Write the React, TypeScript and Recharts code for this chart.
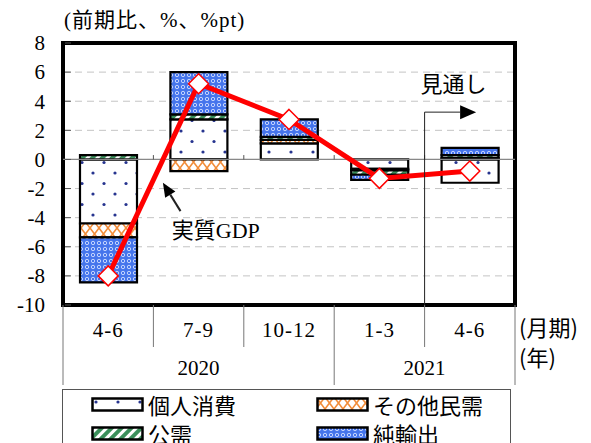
import React from 'react'
import {
  ComposedChart, Bar, Line, XAxis, YAxis, CartesianGrid,
  ReferenceLine, ReferenceArea, ReferenceDot,
} from 'recharts'

// 四半期・年
const quarters = ['4-6', '7-9', '10-12', '1-3', '4-6']
const years = ['2020', '2020', '2020', '2021', '2021']

// 寄与度 (%pt)
const consumption = [-4.4, 2.75, 1.1, -0.65, -1.6]
const otherPrivate = [-0.95, -0.8, 0.25, -0.1, 0.1]
const publicDemand = [0.3, 0.35, 0.2, -0.3, 0.2]
const netExports = [-3.1, 2.9, 1.2, -0.35, 0.5]
// 実質GDP (前期比、%)
const realGdp = [-8.0, 5.2, 2.75, -1.3, -0.8]

const yTicks = [-10, -8, -6, -4, -2, 0, 2, 4, 6, 8]
const boundaries = [1, 2, 3, 4]

const series = [
  { key: 'consumption', name: '個人消費', values: consumption, fill: 'url(#pDots)' },
  { key: 'otherPrivate', name: 'その他民需', values: otherPrivate, fill: 'url(#pZig)' },
  { key: 'publicDemand', name: '公需', values: publicDemand, fill: 'url(#pHatch)' },
  { key: 'netExports', name: '純輸出', values: netExports, fill: 'url(#pNet)' },
]

const data = quarters.map((q, i) => ({
  id: `${years[i]}-${q}`,
  pos: i + 0.5,
  consumption: consumption[i],
  otherPrivate: otherPrivate[i],
  publicDemand: publicDemand[i],
  netExports: netExports[i],
  gdp: realGdp[i],
}))

const W = 591
const H = 443
const M = { top: 43, right: 76, bottom: 63, left: 8 }
const Y_W = 55
const X_H = 75
const PLOT_W = W - M.left - Y_W - M.right

const SERIF = "'Liberation Serif', 'Noto Sans CJK JP', serif"
const CJK = "'Noto Sans CJK JP', sans-serif"

const YTick = ({ x, y, payload }: any) => (
  <g>
    <line x1={x + 20} x2={x + 26} y1={y} y2={y} stroke='#555' />
    <text x={x} y={y} dy='0.35em' textAnchor='end' fontSize={21} fontFamily={SERIF} fill='#000'>
      {payload.value}
    </text>
  </g>
)

const XTick = ({ x, y, index }: any) => {
  const bw = PLOT_W / quarters.length
  const left = x - bw / 2
  const newYear = index === 0 || years[index] !== years[index - 1]
  const span = years.filter(v => v === years[index]).length
  const last = index === quarters.length - 1
  return (
    <g fontFamily={SERIF} fontSize={21} fill='#000'>
      <line x1={left} x2={left} y1={y} y2={y + (newYear ? 80 : 42)} stroke='#777' />
      {last && <line x1={left + bw} x2={left + bw} y1={y} y2={y + 80} stroke='#777' />}
      <text x={x} y={y + 32} textAnchor='middle' letterSpacing={1}>{quarters[index]}</text>
      {newYear && (
        <text x={left + (span * bw) / 2} y={y + 70} textAnchor='middle'>{years[index]}</text>
      )}
      {last && (
        <>
          <text x={left + bw + 4} y={y + 31} fontFamily={CJK} fontSize={22}>(月期)</text>
          <text x={left + bw + 4} y={y + 61} fontFamily={CJK} fontSize={22}>(年)</text>
        </>
      )}
    </g>
  )
}

const Diamond = ({ cx, cy }: any) => {
  if (cx == null || cy == null) return null
  return (
    <polygon
      points={`${cx},${cy - 10} ${cx + 10},${cy} ${cx},${cy + 10} ${cx - 10},${cy}`}
      fill='#fff'
      stroke='#ff0000'
      strokeWidth={1.5}
    />
  )
}

const arrow = (head: boolean, len: number, half: number, sw: number) => (p: any) => {
  const { x1, y1, x2, y2 } = p
  const a = Math.atan2(y2 - y1, x2 - x1)
  const bx = x2 - len * Math.cos(a)
  const by = y2 - len * Math.sin(a)
  const pts = `${x2},${y2} ${bx + half * Math.sin(a)},${by - half * Math.cos(a)} ${bx - half * Math.sin(a)},${by + half * Math.cos(a)}`
  return (
    <g>
      <line x1={x1} y1={y1} x2={head ? bx : x2} y2={head ? by : y2} stroke='#222' strokeWidth={sw} />
      {head && <polygon points={pts} fill='#000' />}
    </g>
  )
}

const textShape = (label: string) => (p: any) => (
  <text x={p.cx} y={p.cy} dy='0.35em' textAnchor='middle' fontSize={22} fontFamily={SERIF} fill='#000'>
    {label}
  </text>
)

const Swatch = ({ fill }: { fill: string }) => (
  <svg width={53} height={15} style={{ display: 'block', flex: 'none' }}>
    <rect x={1.5} y={1.5} width={50} height={12} fill={fill} stroke='#000' strokeWidth={2.5} />
  </svg>
)

export default function App() {
  return (
    <div style={{ position: 'absolute', left: 0, top: 0, width: W, height: H, background: '#fff', overflow: 'hidden' }}>
      <svg width={0} height={0} style={{ position: 'absolute' }}>
        <defs>
          <pattern id='pDots' width={22} height={21} patternUnits='userSpaceOnUse'>
            <rect width={22} height={21} fill='#fff' />
            <circle cx={5} cy={5} r={1.6} fill='#26348f' />
            <circle cx={16} cy={15.5} r={1.6} fill='#26348f' />
          </pattern>
          <pattern id='pZig' width={18} height={12} patternUnits='userSpaceOnUse'>
            <rect width={18} height={12} fill='#fff' />
            <path d='M0,0 L9,12 L18,0 M0,12 L9,0 L18,12' stroke='#f28c38' strokeWidth={1.6} fill='none' />
          </pattern>
          <pattern id='pHatch' width={7} height={7} patternUnits='userSpaceOnUse' patternTransform='rotate(45)'>
            <rect width={7} height={7} fill='#fff' />
            <rect width={4} height={7} fill='#3a8f5a' />
          </pattern>
          <pattern id='pNet' width={6} height={6} patternUnits='userSpaceOnUse'>
            <rect width={6} height={6} fill='#4575ec' />
            <circle cx={3} cy={3} r={1.7} fill='none' stroke='#d0ddff' strokeWidth={0.9} />
          </pattern>
        </defs>
      </svg>

      <div style={{ position: 'absolute', left: 64, top: 7, fontSize: 21, letterSpacing: 1, fontFamily: SERIF, lineHeight: '26px' }}>
        (前期比、%、%pt)
      </div>

      <ComposedChart width={W} height={H} data={data} margin={M} stackOffset='sign' barSize={57}>
        <CartesianGrid horizontal vertical={false} stroke='#c4c4c4' strokeDasharray='7 5' />
        <XAxis
          dataKey='id'
          height={X_H}
          interval={0}
          tickLine={false}
          axisLine={false}
          tickSize={0}
          tickMargin={0}
          tick={<XTick />}
        />
        <XAxis
          xAxisId='num'
          dataKey='pos'
          type='number'
          domain={[0, quarters.length]}
          allowDataOverflow
          hide
        />
        <YAxis
          width={Y_W}
          domain={[-10, 8]}
          ticks={yTicks}
          interval={0}
          tickLine={false}
          axisLine={false}
          tickSize={0}
          tickMargin={18}
          tick={<YTick />}
        />
        <ReferenceLine y={0} stroke='#888' strokeWidth={1.2} />
        {boundaries.map(b => (
          <ReferenceLine
            key={b}
            xAxisId='num'
            ifOverflow='visible'
            segment={[{ x: b, y: 0 }, { x: b, y: 0.3 }]}
            stroke='#555'
          />
        ))}
        {series.map(s => (
          <Bar
            key={s.key}
            dataKey={s.key}
            name={s.name}
            stackId='a'
            fill={s.fill}
            stroke='#000'
            strokeWidth={2.2}
            isAnimationActive={false}
          />
        ))}
        <Line
          dataKey='gdp'
          name='実質GDP'
          stroke='#ff0000'
          strokeWidth={5}
          dot={<Diamond />}
          activeDot={false}
          isAnimationActive={false}
        />
        <ReferenceArea y1={-10} y2={8} fill='none' fillOpacity={0} stroke='#000' strokeWidth={4} />
        <ReferenceLine
          xAxisId='num'
          ifOverflow='visible'
          segment={[{ x: 4, y: -10 }, { x: 4, y: 3.25 }]}
          shape={arrow(false, 0, 0, 1)}
        />
        <ReferenceLine
          xAxisId='num'
          ifOverflow='visible'
          segment={[{ x: 4, y: 3.25 }, { x: 4.57, y: 3.25 }]}
          shape={arrow(true, 16, 7, 1)}
        />
        <ReferenceLine
          xAxisId='num'
          ifOverflow='visible'
          segment={[{ x: 1.3, y: -3.55 }, { x: 1.105, y: -1.6 }]}
          shape={arrow(true, 14, 6, 2)}
        />
        <ReferenceDot xAxisId='num' ifOverflow='visible' x={4.32} y={5.17} r={0} shape={textShape('見通し')} />
        <ReferenceDot xAxisId='num' ifOverflow='visible' x={1.69} y={-4.9} r={0} shape={textShape('実質GDP')} />
      </ComposedChart>

      <div
        style={{
          position: 'absolute', left: 62, top: 389, width: 449, height: 80,
          border: '1px solid #555', boxSizing: 'border-box',
          display: 'grid', gridTemplateColumns: '225px 224px', gridAutoRows: '29px',
          fontFamily: CJK, fontSize: 22,
        }}
      >
        {series.map(s => (
          <div key={s.key} style={{ display: 'flex', alignItems: 'center', paddingLeft: 28, gap: 4, height: 29 }}>
            <Swatch fill={s.fill} />
            <span style={{ lineHeight: '23px', display: 'block' }}>{s.name}</span>
          </div>
        ))}
      </div>
    </div>
  )
}
